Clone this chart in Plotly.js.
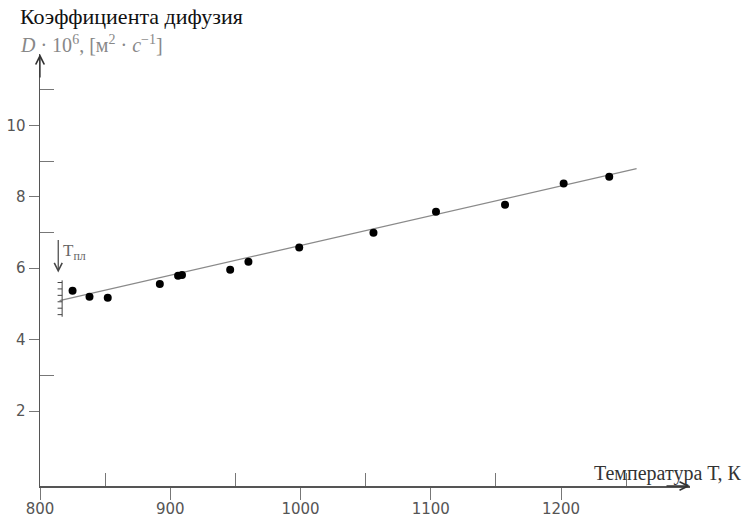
<!DOCTYPE html>
<html>
<head>
<meta charset="utf-8">
<script src="https://cdn.plot.ly/plotly-3.0.1.min.js"></script>
<style>html,body{margin:0;padding:0;background:#fff;}#chart{width:747px;height:516px;}</style>
</head>
<body>
<div id="chart"></div>
<script>
// Measured points: temperature T (K) and diffusion coefficient D·10^6 (m²/s)
const temperatureK = [825, 838, 852, 892, 906, 909, 946, 960, 999, 1056, 1104, 1157, 1202, 1237];
const diffusionD = [5.37, 5.20, 5.17, 5.56, 5.79, 5.81, 5.96, 6.18, 6.58, 6.99, 7.58, 7.78, 8.37, 8.56];
// Fitted straight line (end points)
const fitT = [815, 1258];
const fitD = [5.09, 8.79];
// Axis ticks
const xTickVals = [800, 900, 1000, 1100, 1200];
const xTickText = ['800', '900', '1000', '1100', '1200'];
const xMinorVals = [850, 950, 1050, 1150, 1250];
const yTickVals = [2, 4, 6, 8, 10];
const yTickText = ['2', '4', '6', '8', '10'];
const yMinorVals = [3, 7, 9, 11];
// Melting point marker scale
const meltT = 817;
const meltScaleD = [4.70, 4.88, 5.06, 5.24, 5.42, 5.60];

const axisColor = '#555';
const tickFont = {family: 'DejaVu Sans', size: 15, color: '#555'};
const serif = 'Liberation Serif';

const traces = [
  {x: fitT, y: fitD, mode: 'lines', line: {color: '#8a8a8a', width: 1.2}, hoverinfo: 'skip', showlegend: false},
  {x: temperatureK, y: diffusionD, mode: 'markers', marker: {color: '#000', size: 8}, showlegend: false}
];

const shapes = [
  {type: 'line', xref: 'x', yref: 'y', x0: meltT, x1: meltT, y0: meltScaleD[0] - 0.06, y1: meltScaleD[meltScaleD.length - 1] + 0.06, line: {color: '#444', width: 1}}
].concat(meltScaleD.map(d => ({type: 'line', xref: 'x', yref: 'y', x0: meltT - 3.5, x1: meltT, y0: d, y1: d, line: {color: '#444', width: 1}})));

const annotations = [
  {xref: 'paper', yref: 'paper', x: -0.034, y: 1.086, xanchor: 'left', yanchor: 'middle', showarrow: false,
   text: 'Коэффициента дифузия', font: {family: serif, size: 22, color: '#111'}},
  {xref: 'paper', yref: 'paper', x: -0.034, y: 1.022, xanchor: 'left', yanchor: 'middle', showarrow: false,
   text: '<i>D</i> · 10<sup>6</sup>, [м<sup>2</sup> · <i>c</i><sup>−1</sup>]', font: {family: serif, size: 20, color: '#888'}},
  {xref: 'paper', yref: 'paper', x: 1.082, y: 0.03, xanchor: 'right', yanchor: 'middle', showarrow: false,
   text: 'Температура Т, К', font: {family: serif, size: 20, color: '#333'}},
  // axis arrows
  {xref: 'paper', yref: 'paper', x: 1, y: 0, ax: -25, ay: 0, text: '', showarrow: true, arrowhead: 5, arrowsize: 1.3, arrowwidth: 1.3, arrowcolor: '#333'},
  {xref: 'paper', yref: 'paper', x: 0, y: 1, ax: 0, ay: 25, text: '', showarrow: true, arrowhead: 5, arrowsize: 1.3, arrowwidth: 1.3, arrowcolor: '#333'},
  // melting point
  {xref: 'x', yref: 'y', x: meltT - 3, y: 5.88, ax: 0, ay: -34, text: '', showarrow: true, arrowhead: 5, arrowsize: 1.3, arrowwidth: 1.2, arrowcolor: '#444'},
  {xref: 'x', yref: 'y', x: meltT - 0.5, y: 6.45, xanchor: 'left', yanchor: 'middle', showarrow: false,
   text: 'T<sub>пл</sub>', font: {family: serif, size: 17, color: '#666'}}
];

const layout = {
  width: 747, height: 516,
  margin: {l: 40, r: 57, t: 54, b: 30},
  paper_bgcolor: '#fff', plot_bgcolor: '#fff',
  showlegend: false,
  xaxis: {
    range: [800, 1299], showgrid: false, zeroline: false,
    showline: true, linecolor: axisColor, linewidth: 1.5,
    tickmode: 'array', tickvals: xTickVals, ticktext: xTickText,
    ticks: 'outside', ticklen: 12, tickcolor: '#777', tickwidth: 1,
    ticklabelstandoff: -4,
    tickfont: tickFont,
    minor: {tickmode: 'array', tickvals: xMinorVals, ticks: 'inside', ticklen: 13, tickcolor: '#777', tickwidth: 1, showgrid: false}
  },
  yaxis: {
    range: [-0.1, 12.0], showgrid: false, zeroline: false,
    showline: true, linecolor: axisColor, linewidth: 1.5,
    tickmode: 'array', tickvals: yTickVals, ticktext: yTickText,
    ticks: 'outside', ticklen: 10, tickcolor: '#777', tickwidth: 1,
    tickfont: tickFont,
    minor: {tickmode: 'array', tickvals: yMinorVals, ticks: 'inside', ticklen: 14, tickcolor: '#777', tickwidth: 1, showgrid: false}
  },
  shapes: shapes,
  annotations: annotations
};

Plotly.newPlot('chart', traces, layout, {displayModeBar: false, staticPlot: true});
</script>
</body>
</html>
